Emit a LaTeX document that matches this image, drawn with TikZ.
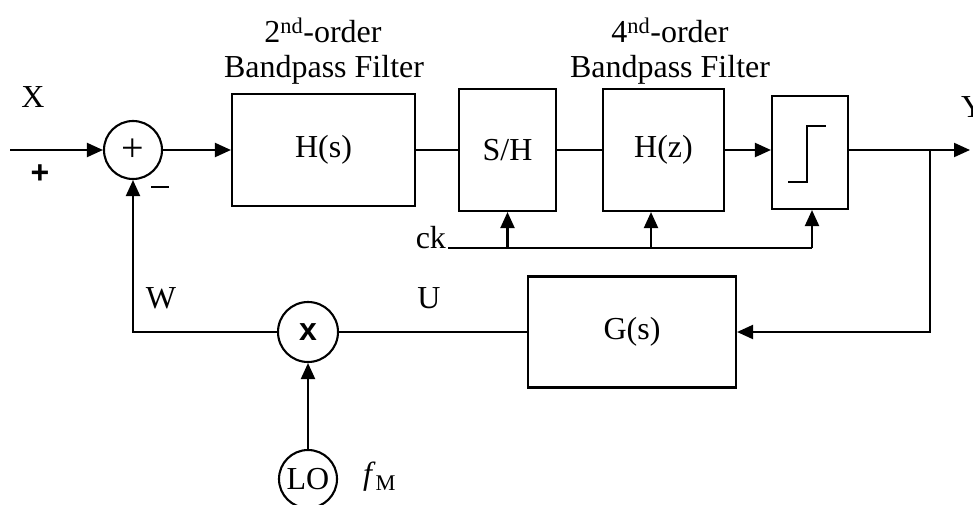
\documentclass[tikz,border=0pt]{standalone}
\usepackage{fontspec}
\setmainfont{Liberation Serif}
\newfontfamily\sansf{Liberation Sans}
\usetikzlibrary{arrows.meta}
\begin{document}
\begin{tikzpicture}[x=1pt,y=-1pt,line width=2.1pt,
  >={Triangle[length=16pt,width=14pt]},
  txt/.style={font=\fontsize{32}{36}\selectfont, inner sep=0pt},
  blk/.style={draw, line width=2.1pt, font=\fontsize{32}{36}\selectfont, inner sep=0pt},
  circ/.style={draw, circle, line width=2.1pt, inner sep=0pt, minimum size=#1},
  circ/.default=60pt]
\useasboundingbox (0,0) rectangle (973,505);

% blocks
\node[circ=58pt, font=\fontsize{40}{40}\selectfont] (sum) at (133,150) {+};
\node[blk, minimum width=183pt, minimum height=112pt] (Hs) at (323.5,150) {H(s)};
\node[blk, minimum width=97pt, minimum height=122pt] (SH) at (507.5,150) {S/H};
\node[blk, minimum width=121pt, minimum height=122pt] (Hz) at (663.5,150) {H(z)};
\node[blk, minimum width=76pt, minimum height=113pt] (Q) at (810,152.5) {};
\node[blk, minimum width=208pt, minimum height=111pt] (Gs) at (632,332) {G(s)};
\node[circ, font=\sansf\bfseries\fontsize{32}{34}\selectfont] (mul) at (308,332) {x};
\node[circ=58pt, font=\fontsize{32}{36}\selectfont] (LO) at (308,479) {LO};

% step symbol
\draw[line width=1.7pt] ([shift={(-22pt,-29.5pt)}]Q.center) -- ++(19pt,0) -- ++(0,56pt) -- ++(19pt,0);

% labels
\node[txt] (X) at (33,97) {X};
\node[font=\sansf\bfseries\fontsize{32}{32}\selectfont, inner sep=0pt] (plus) at (40,174) {+};
\node[inner sep=0pt] (minus) at (160,187) {\rule{18pt}{2.6pt}};
\node[txt] (t2) at (323,30) {2\textsuperscript{nd}-order};
\node[txt] (b2) at (324,70) {Bandpass Filter};
\node[txt] (t4) at (670,30) {4\textsuperscript{nd}-order};
\node[txt] (b4) at (670,70) {Bandpass Filter};
\node[txt, anchor=west] (Y) at (960,107) {Y};
\node[txt] (W) at (161,298) {W};
\node[txt] (U) at (429,298) {U};
\node[txt, anchor=west] (fM) at (362,477) {\textit{f}\textsubscript{M}};

% connectors
\coordinate (in) at (10,150);
\coordinate (out) at (970,150);
\coordinate (br) at (930,150);
\draw[->] (in) -- (sum);
\draw[->] (sum) -- (Hs);
\draw (Hs) -- (SH);
\draw (SH) -- (Hz);
\draw[->] (Hz.east) -- (Q.west |- Hz.east);
\draw[->] (Q.east |- out) -- (out);
\draw[->] (br) -- (br |- Gs.east) -- (Gs.east);
\draw (Gs.west) -- (mul);
\draw[->] (mul.west) -- (sum.south |- mul.west) -- (sum.south);
\draw[->] (LO) -- (mul);

% clock
\coordinate (ckstart) at (448,248);
\coordinate (ckend) at (812,248);
\coordinate (ckb) at (651,248);
\node[txt, anchor=base east] (ck) at (447,248) {ck};
\draw (ckstart) -- (ckend);
\draw[->] (SH.south |- ckstart) -- (SH.south);
\draw[->] (ckb) -- (ckb |- Hz.south);
\draw[->] (ckend) -- (ckend |- Q.south);
\end{tikzpicture}
\end{document}
